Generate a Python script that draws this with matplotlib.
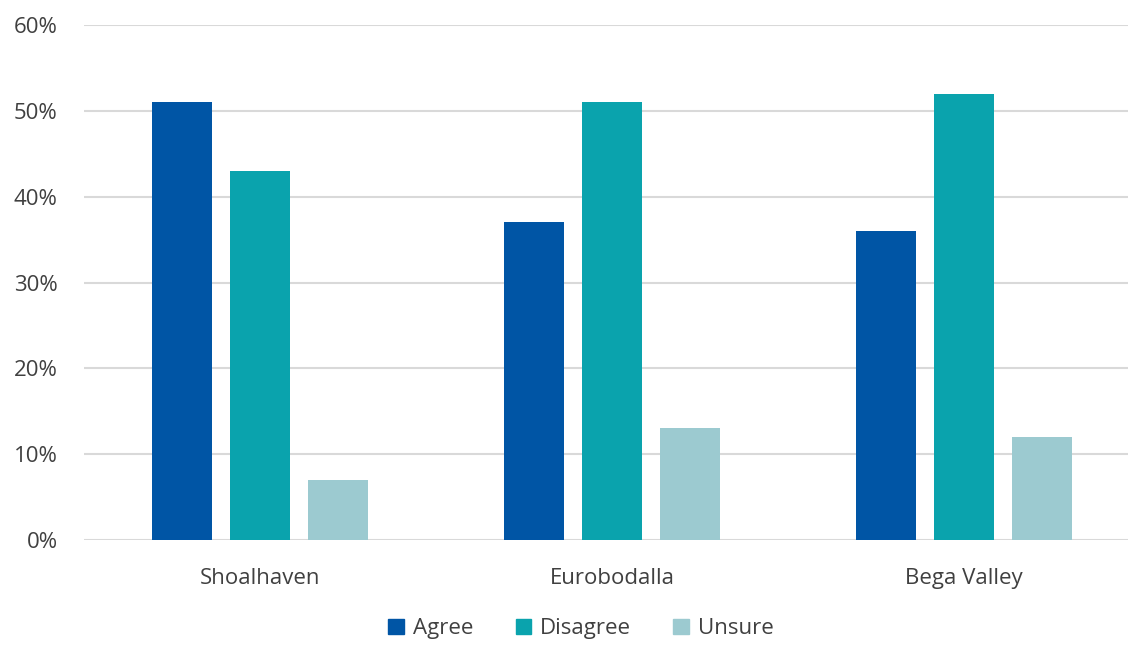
import matplotlib
matplotlib.use("Agg")
import matplotlib.pyplot as plt
from matplotlib.patches import Patch
import numpy as np

plt.rcParams['font.family'] = ['Open Sans', 'DejaVu Sans']

regions = ["Shoalhaven", "Eurobodalla", "Bega Valley"]
series = ["Agree", "Disagree", "Unsure"]
agree = [51, 37, 36]
disagree = [43, 51, 52]
unsure = [7, 13, 12]
yticks = [0, 10, 20, 30, 40, 50, 60]

colors = ["#0055A5", "#0AA3AD", "#9CCAD0"]
text_col = "#404040"

fig = plt.figure(figsize=(11.28, 6.45), dpi=100)
ax = fig.add_axes([0.0745, 0.1628, 0.9255, 0.7984])

x = np.arange(len(regions))
width = 0.173
step = 0.2216
for i, (vals, col) in enumerate(zip([agree, disagree, unsure], colors)):
    ax.bar(x + (i - 1) * step, vals, width=width, color=col, zorder=3)

ax.set_xlim(-0.5, 2.466)
ax.set_ylim(0, 60)
ax.set_yticks(yticks)
ax.set_yticklabels([f"{v}%" for v in yticks])
ax.set_xticks(x)
ax.set_xticklabels(regions)
ax.grid(axis='y', color='#d9d9d9', linewidth=1.5, zorder=0)
for s in ax.spines.values():
    s.set_visible(False)
ax.tick_params(length=0, labelsize=16, colors=text_col)
ax.tick_params(axis='x', pad=20)
ax.tick_params(axis='y', pad=19)

handles = [Patch(color=c, label=s) for c, s in zip(colors, series)]
fig.legend(handles=handles, loc='lower center', bbox_to_anchor=(0.515, -0.022),
           ncol=3, frameon=False, fontsize=16, handlelength=0.7, handleheight=0.7,
           handletextpad=0.4, columnspacing=1.9, labelcolor=text_col)

fig.savefig("out.png", dpi=100)
